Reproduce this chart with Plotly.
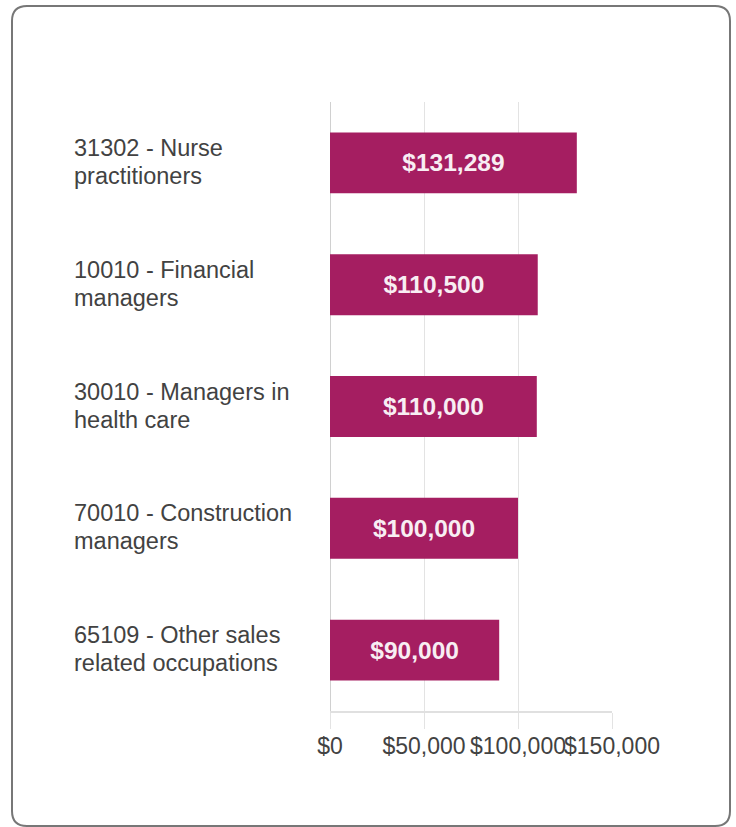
import plotly.graph_objects as go

categories = [
    "31302 - Nurse<br>practitioners",
    "10010 - Financial<br>managers",
    "30010 - Managers in<br>health care",
    "70010 - Construction<br>managers",
    "65109 - Other sales<br>related occupations",
]
salaries = [131289, 110500, 110000, 100000, 90000]
tick_values = [0, 50000, 100000, 150000]
tick_labels = ["$0", "$50,000", "$100,000", "$150,000"]
bar_labels = ["$131,289", "$110,500", "$110,000", "$100,000", "$90,000"]

W, H = 736, 827
L, R, T, B = 330, 124, 102, 116
pw, ph = W - L - R, H - T - B

def px(x):
    return (x - L) / pw

def py(y):
    return (H - B - y) / ph

FONT = "Liberation Sans, Arial, sans-serif"

fig = go.Figure()
fig.add_trace(go.Bar(
    x=salaries,
    y=categories,
    orientation="h",
    marker=dict(color="#A51E61", line=dict(width=0)),
    text=bar_labels,
    textposition="inside",
    insidetextanchor="middle",
    textfont=dict(family=FONT, size=24.5, color="#f8eef3", weight="bold"),
    hoverinfo="skip",
))

# card border (rounded rectangle)
x0, y0, x1, y1, r = 12, 6, 730, 826, 15
path = (
    f"M {px(x0 + r)} {py(y0)} L {px(x1 - r)} {py(y0)} "
    f"Q {px(x1)} {py(y0)} {px(x1)} {py(y0 + r)} "
    f"L {px(x1)} {py(y1 - r)} Q {px(x1)} {py(y1)} {px(x1 - r)} {py(y1)} "
    f"L {px(x0 + r)} {py(y1)} Q {px(x0)} {py(y1)} {px(x0)} {py(y1 - r)} "
    f"L {px(x0)} {py(y0 + r)} Q {px(x0)} {py(y0)} {px(x0 + r)} {py(y0)} Z"
)
fig.add_shape(type="path", path=path, xref="paper", yref="paper",
              line=dict(color="#777777", width=2), layer="below")

# left-aligned category labels, two lines each, ~28px line spacing
for c in categories:
    lines = c.split("<br>")
    n = len(lines)
    for i, line in enumerate(lines):
        fig.add_annotation(
            x=px(72), xref="paper", y=c, yref="y",
            text=line, showarrow=False, xanchor="left", yanchor="middle",
            yshift=(n - 1) / 2 * 28 - i * 28 + 1,
            align="left", font=dict(family=FONT, size=23.5, color="#424242"),
        )

fig.update_layout(
    width=W, height=H, autosize=False,
    margin=dict(l=L, r=R, t=T, b=B, pad=0),
    paper_bgcolor="white", plot_bgcolor="white",
    bargap=0.5, showlegend=False,
    font=dict(family=FONT, size=23, color="#424242"),
)
fig.update_xaxes(
    range=[0, 150000], tickvals=tick_values, ticktext=tick_labels,
    tickangle=0, ticklabelstandoff=-3,
    showgrid=True, gridcolor="#e3e3e3", gridwidth=1,
    zeroline=True, zerolinecolor="#d0d0d0", zerolinewidth=1,
    showline=True, linecolor="#e0e0e0", linewidth=2,
    ticks="outside", ticklen=16, tickcolor="#e3e3e3", tickwidth=1,
    tickfont=dict(family=FONT, size=23, color="#424242"),
    fixedrange=True,
)
fig.update_yaxes(
    autorange="reversed", showticklabels=False, showgrid=False,
    zeroline=False, showline=False, fixedrange=True,
)

fig.write_html(
    "out.html",
    config={"displayModeBar": False},
    post_script="document.body.style.margin='0';document.body.style.overflow='hidden';",
)
